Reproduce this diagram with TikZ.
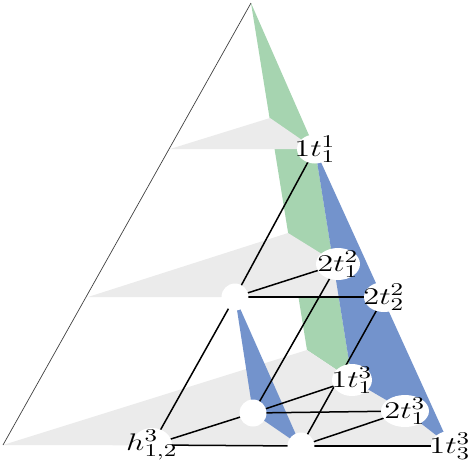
\documentclass[tikz,border=0pt]{standalone}
\usepackage{graphicx}
\usetikzlibrary{shapes.geometric,backgrounds}
\DeclareMathSizes{12}{12}{9}{7}
\definecolor{gfill}{RGB}{166,212,176}
\definecolor{bfill}{RGB}{115,147,204}
\definecolor{grayfill}{RGB}{235,235,235}
\newcommand{\lbltext}[1]{\scalebox{1.35}[1]{$#1$}}
\begin{document}
\begin{tikzpicture}[x=0.5pt,y=-0.5pt,
  lab/.style={ellipse,fill=white,inner sep=-12pt,minimum width=22pt,minimum height=16pt,font=\large},
  small/.style={minimum width=18pt,minimum height=14.5pt},
  dot/.style={circle,fill=white,minimum size=13.5pt,inner sep=0pt},
  link/.style={line width=0.75pt,black},
  frame/.style={line width=0.35pt,black!75}]
\useasboundingbox (0,0) rectangle (473,462);
% nodes
\node[lab,small] (n11) at (315,149) {\lbltext{1t_1^1}};
\node[lab] (n21) at (338,264) {\lbltext{2t_1^2}};
\node[lab,minimum width=20pt,minimum height=15pt] (n22) at (384,297) {\lbltext{2t_2^2}};
\node[dot] (m) at (235,297) {};
\node[lab,minimum width=20pt] (n13) at (352,380) {\lbltext{1t_1^3}};
\node[dot] (c) at (253,413) {};
\node[lab,minimum width=24pt] (n23) at (405,411) {\lbltext{2t_1^3}};
\node[lab,minimum width=20pt,minimum height=17pt] (h) at (152,445) {\lbltext{h_{1,2}^3}};
\node[dot] (b) at (301,446) {};
\node[lab,minimum width=19pt,minimum height=15pt] (n33) at (450,446) {\lbltext{1t_3^3}};
\coordinate (A) at (251,3);
\coordinate (L) at (3,445);
\coordinate (g1) at (270,118);
\coordinate (g2) at (288,233);
\coordinate (g3) at (307,350);
\coordinate (l1) at (170,149);
\coordinate (l2) at (88,297);
\begin{pgfonlayer}{background}
  \fill[gfill] (A) -- (n11.center) -- (n13.center) -- (g3) -- cycle;
  \fill[grayfill] (l1) -- (g1) -- (n11.center) -- cycle;
  \fill[grayfill] (l2) -- (g2) -- (n21.center) -- (n22.center) -- cycle;
  \fill[grayfill] (L) -- (g3) -- (n13.center) -- (n23.center) -- (n33.center) -- cycle;
  \fill[bfill] (n11.center) -- (n33.center) -- (n23.center) -- (n13.center) -- cycle;
  \fill[bfill] (m.center) -- (b.center) -- (c.center) -- cycle;
  \draw[frame] (A) -- (L);
  \draw[link] (n11.center) -- (m.center);
  \draw[link] (m.center) -- (n21.center);
  \draw[link] (m.center) -- (n22.center);
  \draw[link] (m.center) -- (h.center);
  \draw[link] (n21.center) -- (c.center);
  \draw[link] (n22.center) -- (b.center);
  \draw[link] (c.center) -- (n13.center);
  \draw[link] (c.center) -- (n23.center);
  \draw[link] (c.center) -- (h.center);
  \draw[link] (b.center) -- (n23.center);
  \draw[link] (b.center) -- (h.center);
  \draw[link] (b.center) -- (n33.center);
\end{pgfonlayer}
\end{tikzpicture}
\end{document}
